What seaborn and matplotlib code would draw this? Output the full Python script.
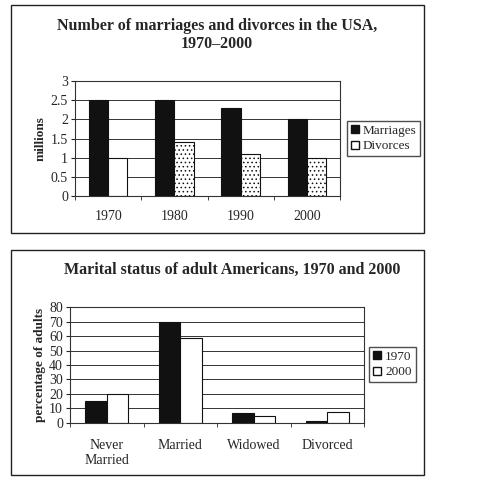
import pandas as pd
import matplotlib
matplotlib.use("Agg")
import matplotlib.pyplot as plt
from matplotlib.patches import Rectangle, Patch
import seaborn as sns

# data
years = ["1970", "1980", "1990", "2000"]
marriages = [2.5, 2.5, 2.3, 2.0]
divorces = [1.0, 1.4, 1.1, 1.0]

statuses = ["Never\nMarried", "Married", "Widowed", "Divorced"]
pct_1970 = [15, 70, 7, 1.5]
pct_2000 = [20, 59, 5, 7.5]

sns.set_style("white")
plt.rcParams["font.family"] = ["Liberation Serif", "DejaVu Serif"]
plt.rcParams["hatch.linewidth"] = 0.6

top = pd.DataFrame({
    "year": years * 2,
    "value": marriages + divorces,
    "kind": ["Marriages"] * 4 + ["Divorces"] * 4,
})
bottom = pd.DataFrame({
    "status": statuses * 2,
    "value": pct_1970 + pct_2000,
    "year": ["1970"] * 4 + ["2000"] * 4,
})

fig = plt.figure(figsize=(5, 4.86), dpi=100)

# outer frames
for y0, h in [(0.5206, 0.469), (0.0226, 0.463)]:
    fig.patches.append(Rectangle((0.022, y0), 0.826, h, transform=fig.transFigure,
                                 fill=False, edgecolor="#222222", lw=1.0))


def style_axes(ax, ylim, step):
    ax.set_xlim(-0.5, 3.5)
    ax.set_ylim(0, ylim)
    ax.set_yticks([i * step for i in range(int(round(ylim / step)) + 1)])
    ax.yaxis.grid(True, color="#333333", lw=0.7)
    ax.set_axisbelow(True)
    for s in ax.spines.values():
        s.set_color("#333333")
        s.set_linewidth(0.8)
    ax.tick_params(axis="x", length=0, labelsize=10, pad=10)
    ax.tick_params(axis="y", left=True, length=3, labelsize=10, pad=2)
    ax.set_xticks([-0.5, 0.5, 1.5, 2.5, 3.5], minor=True)
    ax.tick_params(axis="x", which="minor", bottom=True, length=3, direction="out")
    ax.set_xlabel("")


# top chart
ax1 = fig.add_axes([0.15, 0.597, 0.53, 0.236])
sns.barplot(data=top, x="year", y="value", hue="kind", ax=ax1,
            palette=["#111111", "white"], edgecolor="#111111", linewidth=0.8,
            width=0.58, gap=0, legend=False)
# speckled fill on the later divorce bars
for bar in ax1.patches[5:8]:
    bar.set_hatch("....")
style_axes(ax1, 3, 0.5)
ax1.set_yticklabels(["0", "0.5", "1", "1.5", "2", "2.5", "3"])
ax1.set_ylabel("millions", fontsize=9.5, fontweight="bold", labelpad=3)
fig.text(0.434, 0.928, "Number of marriages and divorces in the USA,\n1970\u20132000",
         ha="center", va="center", fontsize=11.5, fontweight="bold", linespacing=1.15)
fig.legend(handles=[Patch(facecolor="#111111", edgecolor="#111111", label="Marriages"),
                    Patch(facecolor="white", edgecolor="#111111", label="Divorces")],
           loc="center", bbox_to_anchor=(0.767, 0.715), fontsize=9.5, frameon=True,
           fancybox=False, edgecolor="#222222", handlelength=0.6, handleheight=0.6,
           handletextpad=0.3, borderpad=0.3, labelspacing=0.3)

# bottom chart
ax2 = fig.add_axes([0.14, 0.130, 0.588, 0.238])
sns.barplot(data=bottom, x="status", y="value", hue="year", ax=ax2,
            palette=["#111111", "white"], edgecolor="#111111", linewidth=0.8,
            width=0.58, gap=0, legend=False)
style_axes(ax2, 80, 10)
ax2.set_ylabel("percentage of adults", fontsize=9.5, fontweight="bold", labelpad=2)
ax2.tick_params(axis="x", pad=12)
fig.text(0.464, 0.444, "Marital status of adult Americans, 1970 and 2000",
         ha="center", va="center", fontsize=11.5, fontweight="bold")
fig.legend(handles=[Patch(facecolor="#111111", edgecolor="#111111", label="1970"),
                    Patch(facecolor="white", edgecolor="#111111", label="2000")],
           loc="center", bbox_to_anchor=(0.785, 0.25), fontsize=9.5, frameon=True,
           fancybox=False, edgecolor="#222222", handlelength=0.6, handleheight=0.6,
           handletextpad=0.3, borderpad=0.3, labelspacing=0.3)

fig.savefig("out.png", dpi=100)
